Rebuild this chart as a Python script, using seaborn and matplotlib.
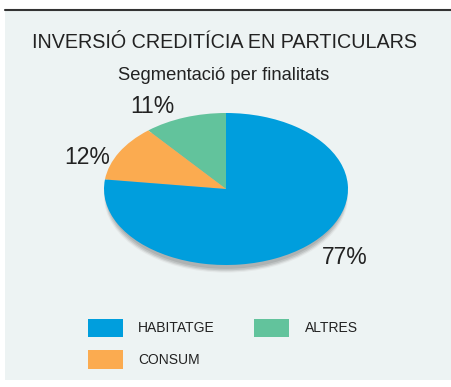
import matplotlib
matplotlib.use("Agg")
import matplotlib.pyplot as plt
from matplotlib.patches import Rectangle, Ellipse
from matplotlib.lines import Line2D
import seaborn as sns

# Data
categories = ["HABITATGE", "CONSUM", "ALTRES"]
shares = [77, 12, 11]
colors = ["#009edd", "#fbab50", "#62c39c"]

sns.set_theme(style="white")
plt.rcParams["font.family"] = ["Liberation Sans", "DejaVu Sans"]

W, H = 451, 387
fig = plt.figure(figsize=(W / 100, H / 100), dpi=100, facecolor="white")

# Panel background and top rule
fig.patches.append(Rectangle((5 / W, 1 - 380 / H), 446 / W, 370 / H,
                             transform=fig.transFigure, facecolor="#edf3f3",
                             edgecolor="none", zorder=-5))
fig.lines.append(Line2D([5 / W, 1], [1 - 10 / H, 1 - 10 / H],
                        transform=fig.transFigure, color="#333333", lw=1.5,
                        zorder=-4))

fig.text(32 / W, 1 - 43 / H, "INVERSIÓ CREDITÍCIA EN PARTICULARS",
         fontsize=14.2, color="#222222", ha="left", va="center")
fig.text(224 / W, 1 - 75 / H, "Segmentació per finalitats",
         fontsize=13.2, color="#222222", ha="center", va="center")

# Pie drawn as a flattened ellipse
cx, cy, rx, ry = 226, 189, 122, 76
ax = fig.add_axes([(cx - rx) / W, 1 - (cy + ry) / H, 2 * rx / W, 2 * ry / H])
ax.set_facecolor("none")
ax.set_zorder(1)

# soft shadow underneath
for i, (dy, col) in enumerate([(-0.10, "#e4e8e8"), (-0.085, "#d2d6d6"),
                               (-0.07, "#bfc3c3"), (-0.05, "#aeb2b2")]):
    ax.add_patch(Ellipse((0, dy), 2.0 - 0.012 * i, 2.0, facecolor=col,
                         edgecolor="none", zorder=0, clip_on=False))

order = [2, 1, 0]  # counter-clockwise from 12 o'clock: ALTRES, CONSUM, HABITATGE
ax.pie([shares[i] for i in order], colors=[colors[i] for i in order],
       startangle=90, counterclock=True,
       wedgeprops=dict(linewidth=0, zorder=2))
ax.set_aspect("auto")
ax.set_xlim(-1, 1)
ax.set_ylim(-1, 1)
ax.axis("off")

# Percentage labels
label_pos = {2: (-0.60, 1.08), 1: (-1.14, 0.42), 0: (0.97, -0.90)}
for i in order:
    x, y = label_pos[i]
    ax.text(x, y, f"{shares[i]}%", fontsize=16.5, color="#222222",
            ha="center", va="center", clip_on=False,
            family=["Liberation Sans Narrow", "Liberation Sans", "DejaVu Sans"])

# Legend
handles = [Rectangle((0, 0), 1, 1, facecolor=colors[i], edgecolor="none")
           for i in range(3)]
leg = fig.legend(handles, categories, ncol=2, loc="upper left",
                 bbox_to_anchor=(75 / W, 1 - 306 / H), frameon=False,
                 fontsize=10, handlelength=2.55, handleheight=1.7,
                 handletextpad=1.1, columnspacing=2.8, labelspacing=0.9,
                 labelcolor="#222222")

fig.savefig("out.png", dpi=100, facecolor="white")
